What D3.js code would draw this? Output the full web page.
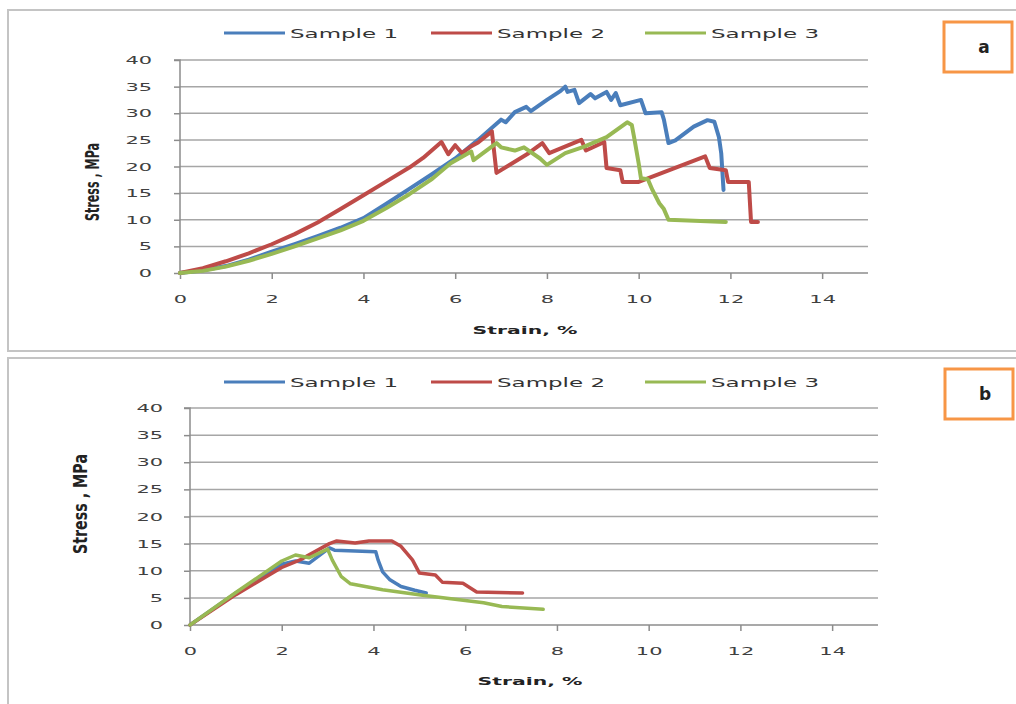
<!DOCTYPE html>
<html>
<head>
<meta charset="utf-8">
<script src="https://cdn.jsdelivr.net/npm/d3@7"></script>
<style>
  body { margin: 0; background: #fff; }
  svg { display: block; }
  .tick text { font-family: "DejaVu Sans", sans-serif; font-size: 11px; fill: #404040; }
  .grid line { stroke: #a6a6a6; stroke-width: 1.5; }
  .axis path, .axis line { stroke: #8c8c8c; stroke-width: 1.5; }
  .lbl { font-family: "DejaVu Sans", sans-serif; font-weight: bold; fill: #222; }
  .leg { font-family: "DejaVu Sans", sans-serif; font-size: 13px; fill: #333; }
</style>
</head>
<body>
<svg id="fig" width="1016" height="704"></svg>
<script>
// ---- data (strain %, stress MPa) ----
const seriesNames = ["Sample 1", "Sample 2", "Sample 3"];
const seriesColors = ["#4a7ebb", "#be4b48", "#98b954"];
const xTicks = [0, 2, 4, 6, 8, 10, 12, 14];
const yTicks = [0, 5, 10, 15, 20, 25, 30, 35, 40];

// panel a
const a1 = [[0,0],[0.5,0.5],[1,1.3],[1.5,2.5],[2,4.0],[2.5,5.4],[3,6.9],[3.5,8.5],[4,10.3],[4.5,13.0],
  [5,15.8],[5.5,18.6],[6,21.5],[6.5,25.0],[7,28.8],[7.1,28.3],
  [7.3,30.2],[7.55,31.2],[7.65,30.4],[8.0,32.5],[8.3,34.2],[8.4,35.0],[8.45,34.0],[8.6,34.4],[8.7,31.9],
  [8.95,33.6],[9.05,32.8],[9.3,34.0],[9.4,32.5],[9.5,33.8],[9.6,31.5],[10.05,32.5],[10.15,30.0],[10.5,30.2],
  [10.55,28.8],[10.65,24.4],[10.8,24.9],[11.2,27.5],[11.5,28.7],[11.65,28.4],[11.75,25.5],[11.8,22.5],[11.85,15.6]];
const a2 = [[0,0],[0.5,0.9],[1,2.2],[1.5,3.7],[2,5.4],[2.5,7.3],[3,9.5],[3.5,12.0],[4,14.6],[4.5,17.2],
  [5,19.8],[5.3,21.6],[5.7,24.6],[5.85,22.3],[6.0,24.0],[6.15,22.5],
  [6.35,23.8],[6.5,24.5],[6.8,26.6],[6.9,18.8],[7.6,22.5],[7.9,24.4],[8.05,22.5],[8.75,25.0],[8.85,23.0],
  [9.25,24.6],[9.3,19.7],[9.6,19.3],[9.65,17.1],[10.0,17.1],[11.45,21.9],[11.55,19.7],[11.9,19.3],
  [11.95,17.1],[12.4,17.1],[12.45,9.6],[12.6,9.6]];
const a3 = [[0,0],[0.5,0.4],[1,1.2],[1.5,2.3],[2,3.6],[2.5,5.0],[3,6.5],[3.5,8.0],[4,9.8],[4.5,12.2],
  [5,14.8],[5.5,17.7],[5.9,20.6],[6.35,22.8],[6.4,21.2],[6.9,24.4],
  [7.0,23.6],[7.3,23.0],[7.5,23.6],[7.85,21.5],[8.0,20.3],[8.4,22.5],[8.8,23.7],[9.3,25.5],[9.75,28.3],
  [9.85,27.8],[9.9,25.5],[10.0,20.6],[10.05,17.8],[10.2,17.6],[10.3,15.6],[10.45,13.1],[10.55,12.0],
  [10.65,10.0],[11.9,9.6]];

// panel b
const b1 = [[0,0],[1,5.9],[2,11.2],[2.3,11.8],[2.6,11.4],[3.04,14.2],[3.15,13.8],[4.05,13.5],[4.1,12.0],
  [4.2,9.8],[4.35,8.4],[4.6,7.1],[4.9,6.4],[5.15,5.9]];
const b2 = [[0,0],[1,5.6],[2,10.6],[2.4,12.0],[3.04,15.0],[3.2,15.5],[3.6,15.1],[3.9,15.5],[4.4,15.5],
  [4.6,14.5],[4.85,12.0],[5.0,9.6],[5.35,9.2],[5.5,7.9],[5.95,7.7],[6.25,6.1],[7.25,5.9]];
const b3 = [[0,0],[1,6.0],[2,11.8],[2.3,12.9],[2.6,12.4],[3.0,14.0],[3.1,12.0],[3.3,8.9],[3.5,7.6],
  [4.2,6.5],[5.07,5.5],[6.4,4.1],[6.8,3.4],[7.7,2.9]];

const svg = d3.select("#fig");

// stretch text horizontally like the (wide) source image
function stretch(sel, k) {
  sel.each(function () {
    const w = this.getComputedTextLength();
    this.setAttribute("textLength", w * k);
    this.setAttribute("lengthAdjust", "spacingAndGlyphs");
  });
}

// panel frames
svg.append("rect").attr("x", 8).attr("y", 10).attr("width", 1020).attr("height", 341)
  .attr("fill", "none").attr("stroke", "#c4c4c4").attr("stroke-width", 2);
svg.append("rect").attr("x", 8).attr("y", 358).attr("width", 1020).attr("height", 360)
  .attr("fill", "none").attr("stroke", "#c4c4c4").attr("stroke-width", 2);

function drawPanel(p) {
  const x = d3.scaleLinear().domain([0, 15]).range([p.x0, p.x1]);
  const y = d3.scaleLinear().domain([0, 40]).range([p.y0, p.y1]);
  const g = svg.append("g");

  // gridlines
  g.append("g").attr("class", "grid")
    .selectAll("line").data(yTicks.slice(1)).join("line")
    .attr("x1", p.x0).attr("x2", p.x1)
    .attr("y1", d => y(d)).attr("y2", d => y(d));

  const ya = g.append("g").attr("class", "axis")
    .attr("transform", `translate(${p.x0},0)`)
    .call(d3.axisLeft(y).tickValues(yTicks).tickSize(6).tickPadding(p.yPad).tickSizeOuter(0));
  ya.select(".domain").attr("d", `M-6,${p.y1}H0V${p.y0}`);
  stretch(ya.selectAll("text"), 1.9);

  const xa = g.append("g").attr("class", "axis")
    .attr("transform", `translate(0,${p.y0})`)
    .call(d3.axisBottom(x).tickValues(xTicks).tickSize(6).tickPadding(16).tickSizeOuter(0));
  xa.select(".domain").attr("d", `M${p.x0},0H${p.x1}`);
  stretch(xa.selectAll("text"), 1.9);

  // curves
  const line = d3.line().x(d => x(d[0])).y(d => y(d[1]));
  p.series.forEach((s, i) => {
    g.append("path").datum(s).attr("d", line)
      .attr("fill", "none").attr("stroke", seriesColors[i])
      .attr("stroke-width", p.lw).attr("stroke-linejoin", "round").attr("stroke-linecap", "round");
  });

  // axis titles
  g.append("text").attr("class", "lbl").attr("font-size", 11)
    .attr("x", p.xLabX).attr("y", p.xLabY).attr("text-anchor", "middle")
    .text("Strain, %")
    .call(stretch, 1.85);
  g.append("text").attr("class", "lbl").attr("font-size", 19)
    .attr("transform", `translate(${p.yLabX},${p.yLabY}) rotate(-90)`)
    .attr("text-anchor", "middle").attr("dy", "0.35em")
    .attr("textLength", p.yLabLen).attr("lengthAdjust", "spacingAndGlyphs")
    .text("Stress , MPa");

  // legend
  const legX = [224, 431, 645];
  seriesNames.forEach((n, i) => {
    g.append("line").attr("x1", legX[i]).attr("x2", legX[i] + 61)
      .attr("y1", p.legY).attr("y2", p.legY)
      .attr("stroke", seriesColors[i]).attr("stroke-width", 3);
    g.append("text").attr("class", "leg").attr("x", legX[i] + 66).attr("y", p.legY)
      .attr("dy", "0.36em").attr("textLength", 108).attr("lengthAdjust", "spacingAndGlyphs")
      .text(n);
  });

  // panel tag
  g.append("rect").attr("x", p.tag[0]).attr("y", p.tag[1]).attr("width", 68).attr("height", 50)
    .attr("fill", "#fff").attr("stroke", "#f79646").attr("stroke-width", 3);
  g.append("text").attr("class", "lbl").attr("font-size", 17)
    .attr("x", p.tag[0] + 40).attr("y", p.tag[1] + 25).attr("dy", "0.36em")
    .attr("text-anchor", "middle").text(p.name);
}

drawPanel({
  name: "a", series: [a1, a2, a3], x0: 180, x1: 868, y0: 273, y1: 60, lw: 4,
  yPad: 22, xLabX: 525, xLabY: 334, yLabX: 92, yLabY: 182, yLabLen: 78,
  legY: 33, tag: [944, 22]
});
drawPanel({
  name: "b", series: [b1, b2, b3], x0: 190, x1: 878, y0: 625, y1: 408, lw: 3.5,
  yPad: 21, xLabX: 530, xLabY: 685, yLabX: 80, yLabY: 504, yLabLen: 100,
  legY: 382, tag: [945, 369]
});
</script>
</body>
</html>
